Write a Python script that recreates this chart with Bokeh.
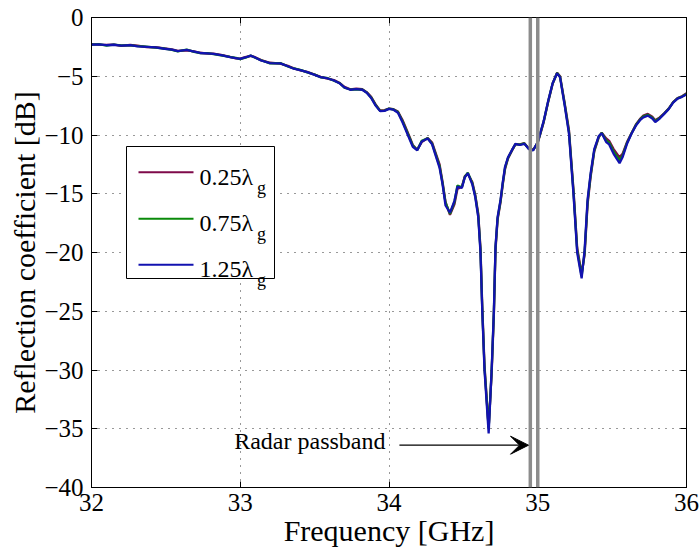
from bokeh.plotting import figure
from bokeh.models import (FixedTicker, LinearAxis, Span, Arrow, VeeHead, Label,
                          BoxAnnotation, Range1d)
from bokeh.embed import file_html
from bokeh.resources import INLINE

# ---------------- data ----------------
freq = [32.00, 32.05, 32.10, 32.15, 32.20, 32.26, 32.31, 32.37, 32.43, 32.49,
        32.54, 32.58, 32.64, 32.69, 32.73, 32.78, 32.82, 32.88, 32.93, 32.97,
        33.00, 33.04, 33.07, 33.10, 33.14, 33.20, 33.27, 33.32, 33.36, 33.41,
        33.45, 33.50, 33.54, 33.58, 33.63, 33.67, 33.70, 33.74, 33.78, 33.82,
        33.85, 33.88, 33.91, 33.94, 33.97, 34.00, 34.03, 34.06, 34.09, 34.11,
        34.14, 34.16, 34.19, 34.22, 34.26, 34.29, 34.31, 34.34, 34.36, 34.38,
        34.41, 34.44, 34.46, 34.49, 34.51, 34.53, 34.56, 34.58, 34.60, 34.615,
        34.627, 34.642, 34.67, 34.69, 34.705, 34.716, 34.73, 34.75, 34.765, 34.78,
        34.80, 34.83, 34.85, 34.88, 34.91, 34.94, 34.97, 35.00, 35.02, 35.04,
        35.07, 35.10, 35.13, 35.15, 35.18, 35.21, 35.24, 35.265, 35.295, 35.315,
        35.335, 35.355, 35.38, 35.41, 35.43, 35.46, 35.48, 35.51, 35.55, 35.57,
        35.60, 35.63, 35.66, 35.69, 35.71, 35.74, 35.77, 35.79, 35.82, 35.85,
        35.88, 35.91, 35.94, 35.97, 36.00]

s025 = [-2.26, -2.30, -2.33, -2.30, -2.42, -2.34, -2.40, -2.52, -2.53, -2.63,
        -2.72, -2.84, -2.79, -2.88, -3.00, -3.08, -3.07, -3.20, -3.35, -3.47,
        -3.50, -3.36, -3.27, -3.38, -3.63, -3.85, -3.93, -4.12, -4.33, -4.52,
        -4.62, -4.85, -5.05, -5.18, -5.33, -5.58, -5.90, -6.12, -6.05, -6.10,
        -6.35, -6.75, -7.40, -7.90, -7.88, -7.75, -7.80, -8.00, -8.70, -9.30,
        -10.20, -10.85, -11.25, -10.60, -10.25, -10.65, -11.40, -12.50, -14.00, -15.70,
        -16.80, -15.90, -14.60, -14.40, -13.50, -13.30, -14.00, -15.10, -16.70, -19.60,
        -24.60, -29.60, -34.90, -30.30, -25.30, -19.80, -17.20, -15.70, -14.20, -12.90,
        -12.00, -11.25, -10.80, -10.80, -10.70, -11.15, -11.25, -10.65, -9.80, -8.90,
        -7.20, -5.65, -4.70, -5.00, -7.20, -9.60, -14.60, -19.60, -21.80, -20.20,
        -15.90, -13.60, -11.40, -10.20, -9.80, -10.30, -10.50, -11.20, -11.90, -11.60,
        -10.60, -9.85, -9.10, -8.60, -8.35, -8.20, -8.45, -8.75, -8.50, -8.15,
        -7.75, -7.20, -6.85, -6.70, -6.45]

s075 = [-2.32, -2.26, -2.40, -2.30, -2.38, -2.38, -2.43, -2.48, -2.57, -2.64,
        -2.76, -2.88, -2.74, -2.92, -3.04, -3.03, -3.12, -3.24, -3.36, -3.43,
        -3.55, -3.40, -3.23, -3.42, -3.64, -3.90, -3.88, -4.17, -4.34, -4.48,
        -4.67, -4.86, -5.09, -5.13, -5.38, -5.60, -5.97, -6.13, -6.12, -6.13,
        -6.38, -6.80, -7.45, -7.95, -7.92, -7.76, -7.83, -8.05, -8.80, -9.40,
        -10.30, -10.90, -11.28, -10.50, -10.28, -10.75, -11.50, -12.65, -14.10, -15.75,
        -16.70, -15.70, -14.30, -14.45, -13.55, -13.20, -14.10, -15.20, -16.85, -19.80,
        -24.80, -29.80, -35.00, -30.10, -25.10, -19.60, -17.10, -15.60, -14.10, -12.80,
        -11.95, -11.22, -10.78, -10.82, -10.72, -11.18, -11.28, -10.62, -9.75, -8.85,
        -7.15, -5.62, -4.72, -5.05, -7.30, -9.75, -14.80, -19.80, -22.00, -20.00,
        -15.70, -13.45, -11.30, -10.15, -9.82, -10.45, -10.65, -11.40, -12.15, -11.75,
        -10.68, -9.88, -9.15, -8.65, -8.42, -8.28, -8.52, -8.82, -8.55, -8.18,
        -7.78, -7.22, -6.88, -6.72, -6.50]

s125 = [-2.30, -2.28, -2.36, -2.32, -2.40, -2.36, -2.45, -2.50, -2.55, -2.66,
        -2.74, -2.86, -2.76, -2.90, -3.02, -3.05, -3.10, -3.22, -3.38, -3.45,
        -3.52, -3.38, -3.25, -3.40, -3.66, -3.88, -3.90, -4.15, -4.36, -4.50,
        -4.65, -4.88, -5.07, -5.15, -5.36, -5.62, -5.95, -6.15, -6.10, -6.15,
        -6.40, -6.85, -7.50, -7.97, -7.95, -7.78, -7.85, -8.10, -8.90, -9.50,
        -10.40, -11.00, -11.30, -10.55, -10.30, -10.80, -11.60, -12.80, -14.20, -16.00,
        -16.60, -15.60, -14.40, -14.50, -13.60, -13.25, -14.20, -15.30, -17.00, -20.00,
        -25.00, -30.00, -35.40, -30.00, -25.00, -19.50, -17.00, -15.50, -14.00, -12.70,
        -11.90, -11.20, -10.75, -10.85, -10.75, -11.20, -11.30, -10.60, -9.70, -8.80,
        -7.10, -5.60, -4.75, -5.10, -7.40, -9.90, -15.00, -20.00, -22.20, -19.80,
        -15.50, -13.30, -11.20, -10.10, -9.85, -10.60, -10.80, -11.60, -12.40, -11.90,
        -10.75, -9.90, -9.20, -8.70, -8.50, -8.35, -8.60, -8.90, -8.60, -8.20,
        -7.80, -7.25, -6.90, -6.75, -6.55]

series_names = ["0.25λ", "0.75λ", "1.25λ"]
series_colors = ["#7e0a4a", "#0a8a0a", "#1212b0"]
x_ticks = [32, 33, 34, 35, 36]
y_ticks = [-40, -35, -30, -25, -20, -15, -10, -5, 0]
passband_edges = [34.95, 35.0]
annotation_text = "Radar passband"
arrow_start = 34.07
arrow_y = -36.4

FONT = "Liberation Serif"

# pixel -> data helpers for placing the hand-built legend (reference layout)
def fx(px):
    return 32 + (px - 91) / 148.75

def fy(py):
    return -(py - 17) / 11.75

p = figure(width=700, height=550, x_range=Range1d(32, 36), y_range=Range1d(-40, 0),
           output_backend="svg", toolbar_location=None,
           min_border_left=91, min_border_right=14, min_border_top=17, min_border_bottom=63)
p.background_fill_color = "white"
p.border_fill_color = "white"
p.outline_line_color = "black"
p.outline_line_width = 1
p.outline_line_alpha = 1

def style_axis(ax, ticks, show_labels=True):
    ax.ticker = FixedTicker(ticks=ticks)
    ax.major_tick_in = 6
    ax.major_tick_out = 0
    ax.minor_tick_line_color = None
    ax.axis_line_color = "black"
    ax.major_tick_line_color = "black"
    if show_labels:
        ax.major_label_overrides = {t: str(t).replace("-", "\u2212") for t in ticks}
        ax.major_label_text_font = FONT
        ax.major_label_text_font_size = "25px"
        ax.major_label_text_color = "black"
    else:
        ax.major_label_overrides = {t: "" for t in ticks}
        ax.major_label_text_font_size = "0px"
        ax.major_label_standoff = 0

style_axis(p.xaxis[0], x_ticks)
style_axis(p.yaxis[0], y_ticks)
p.xaxis.major_label_standoff = 6
p.yaxis.major_label_standoff = 8
p.xaxis.axis_label = "Frequency [GHz]"
p.yaxis.axis_label = "Reflection coefficient [dB]"
for ax in (p.xaxis[0], p.yaxis[0]):
    ax.axis_label_text_font = FONT
    ax.axis_label_text_font_size = "30px"
    ax.axis_label_text_font_style = "normal"
    ax.axis_label_text_color = "black"
    ax.axis_label_standoff = 0

top_ax = LinearAxis()
style_axis(top_ax, x_ticks, show_labels=False)
p.add_layout(top_ax, "above")
right_ax = LinearAxis()
style_axis(right_ax, y_ticks, show_labels=False)
p.add_layout(right_ax, "right")

for g in (p.xgrid[0], p.ygrid[0]):
    g.grid_line_color = "#333333"
    g.grid_line_dash = "1 6"
    g.grid_line_width = 1
p.xgrid.ticker = FixedTicker(ticks=x_ticks)
p.ygrid.ticker = FixedTicker(ticks=y_ticks)

for ys, c in zip([s025, s075, s125], series_colors):
    p.line(freq, ys, line_color=c, line_width=2.3)

for e in passband_edges:
    p.add_layout(Span(location=e, dimension="height", line_color="#8c8c8c", line_width=3.5))

p.add_layout(Arrow(end=VeeHead(size=18, fill_color="black", line_color="black"),
                   x_start=arrow_start, y_start=arrow_y,
                   x_end=passband_edges[0] - 0.012, y_end=arrow_y,
                   line_color="black", line_width=1.3))
p.add_layout(Label(x=fx(385), y=arrow_y, text=annotation_text, text_align="right",
                   text_baseline="alphabetic", text_font=FONT, text_font_size="24px",
                   text_color="black", y_offset=4))

# legend (hand-built to allow the subscript g)
p.add_layout(BoxAnnotation(left=fx(126), right=fx(274), top=fy(146), bottom=fy(278),
                           fill_color="white", fill_alpha=1.0,
                           line_color="black", line_width=1, line_alpha=1))
line_py = [171.7, 218.3, 264.3]
base_py = [176.7, 222.3, 268.0]
for name, c, ly, by in zip(series_names, series_colors, line_py, base_py):
    p.segment(x0=[fx(138)], y0=[fy(ly)], x1=[fx(193)], y1=[fy(ly)],
              line_color=c, line_width=2, level="overlay")
    p.add_layout(Label(x=fx(199), y=fy(by), text=name, text_baseline="alphabetic",
                       text_font=FONT, text_font_size="24px", text_color="black"))
    p.add_layout(Label(x=fx(256.5), y=fy(by + 11), text="g", text_baseline="alphabetic",
                       text_font=FONT, text_font_size="18px", text_color="black"))

open("out.html", "w").write(file_html(p, INLINE))
